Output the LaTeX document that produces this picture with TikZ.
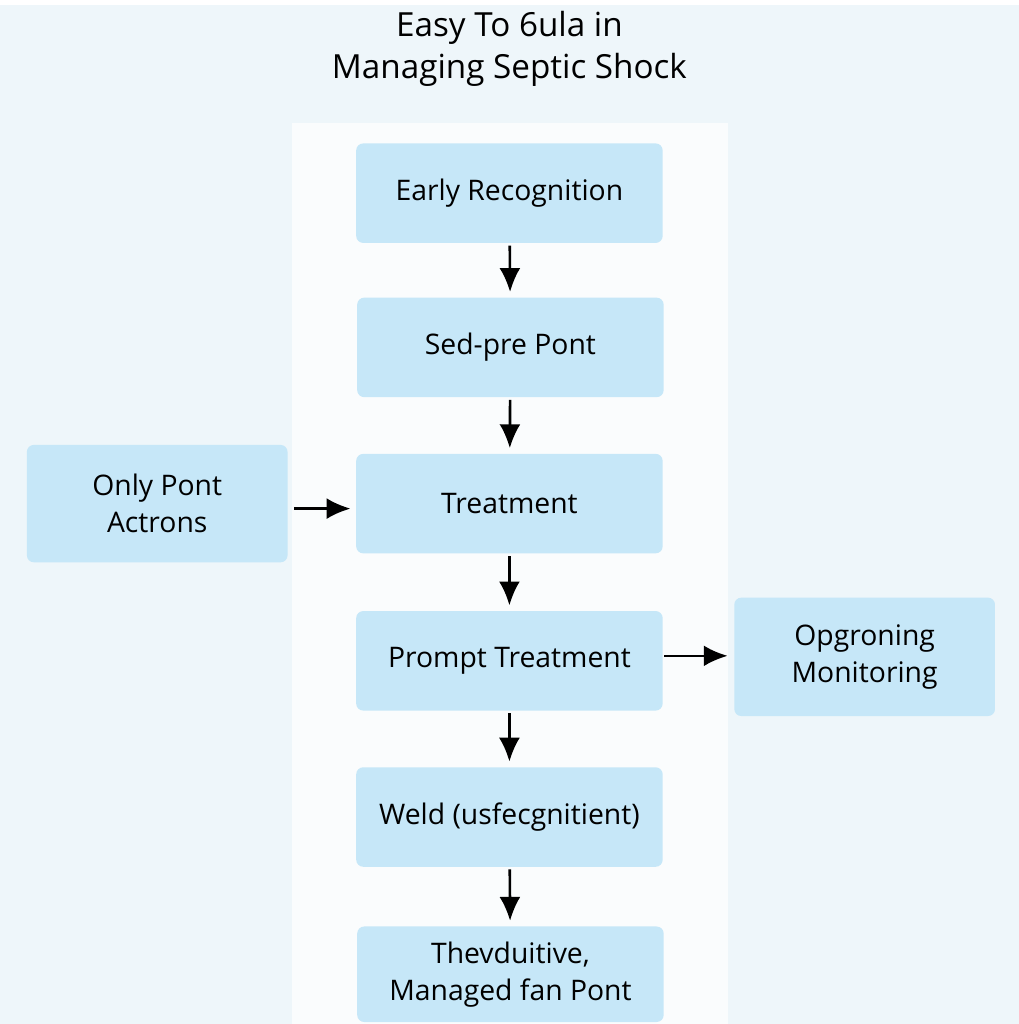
\documentclass[tikz,border=0pt]{standalone}
\usepackage{xcolor}
\usepackage{fontspec}
\setmainfont{Open Sans}
\usepackage{tikz}
\usetikzlibrary{arrows.meta}
\definecolor{BG}{HTML}{EEF6FA}
\definecolor{COL}{HTML}{FAFCFD}
\definecolor{BOX}{HTML}{C6E7F8}
\tikzset{
  stepbox/.style={fill=BOX, rounded corners=2pt, minimum width=3.08cm, minimum height=1.0cm, text centered, align=center, font=\fontsize{8.1}{10.6}\selectfont},
  sidebox/.style={stepbox, minimum width=2.62cm, minimum height=1.18cm},
  flow/.style={-{Latex[length=2.4mm,width=2.1mm]}, line width=0.75pt, black}
}

\begin{document}
\begin{tikzpicture}%
\fill[BG] (0,0) rectangle (10.24, 10.24);%
\fill[COL] (2.93,0) rectangle (7.32, 9.06);%
\node[font=\fontsize{9.5}{11.8}\selectfont, align=center] (title) at (5.12, 9.80) {Easy To 6ula in\\Managing Septic Shock};%
\node[stepbox] (early) at (5.12, 8.35) {Early Recognition};%
\node[stepbox] (sedpre) at (5.13, 6.80) {Sed-pre Pont};%
\node[stepbox] (treat) at (5.12, 5.23) {Treatment};%
\node[stepbox] (prompt) at (5.12, 3.65) {Prompt Treatment};%
\node[stepbox] (weld) at (5.12, 2.08) {Weld (usfecgnitient)};%
\node[stepbox, minimum height=0.96cm] (managed) at (5.13, 0.50) {Thevduitive,\\Managed fan Pont};%
\node[sidebox] (only) at (1.58, 5.23) {Only Pont\\Actrons};%
\node[sidebox, minimum height=1.19cm] (monitor) at (8.69, 3.69) {Opgroning\\Monitoring};%
\draw[flow, shorten <=0.02cm, shorten >=0.05cm] (early) -- (sedpre);%
\draw[flow, shorten <=0.02cm, shorten >=0.05cm] (sedpre) -- (treat);%
\draw[flow, shorten <=0.02cm, shorten >=0.05cm] (treat) -- (prompt);%
\draw[flow, shorten <=0.02cm, shorten >=0.05cm] (prompt) -- (weld);%
\draw[flow, shorten <=0.02cm, shorten >=0.05cm] (weld) -- (managed);%
\draw[flow, shorten <=0.06cm, shorten >=0.05cm] (only.east |- 0,5.18) -- (treat.west |- 0,5.18);%
\draw[flow, shorten <=0.01cm, shorten >=0.06cm] (prompt.east |- 0,3.70) -- (monitor.west |- 0,3.70);%
\end{tikzpicture}
\end{document}
